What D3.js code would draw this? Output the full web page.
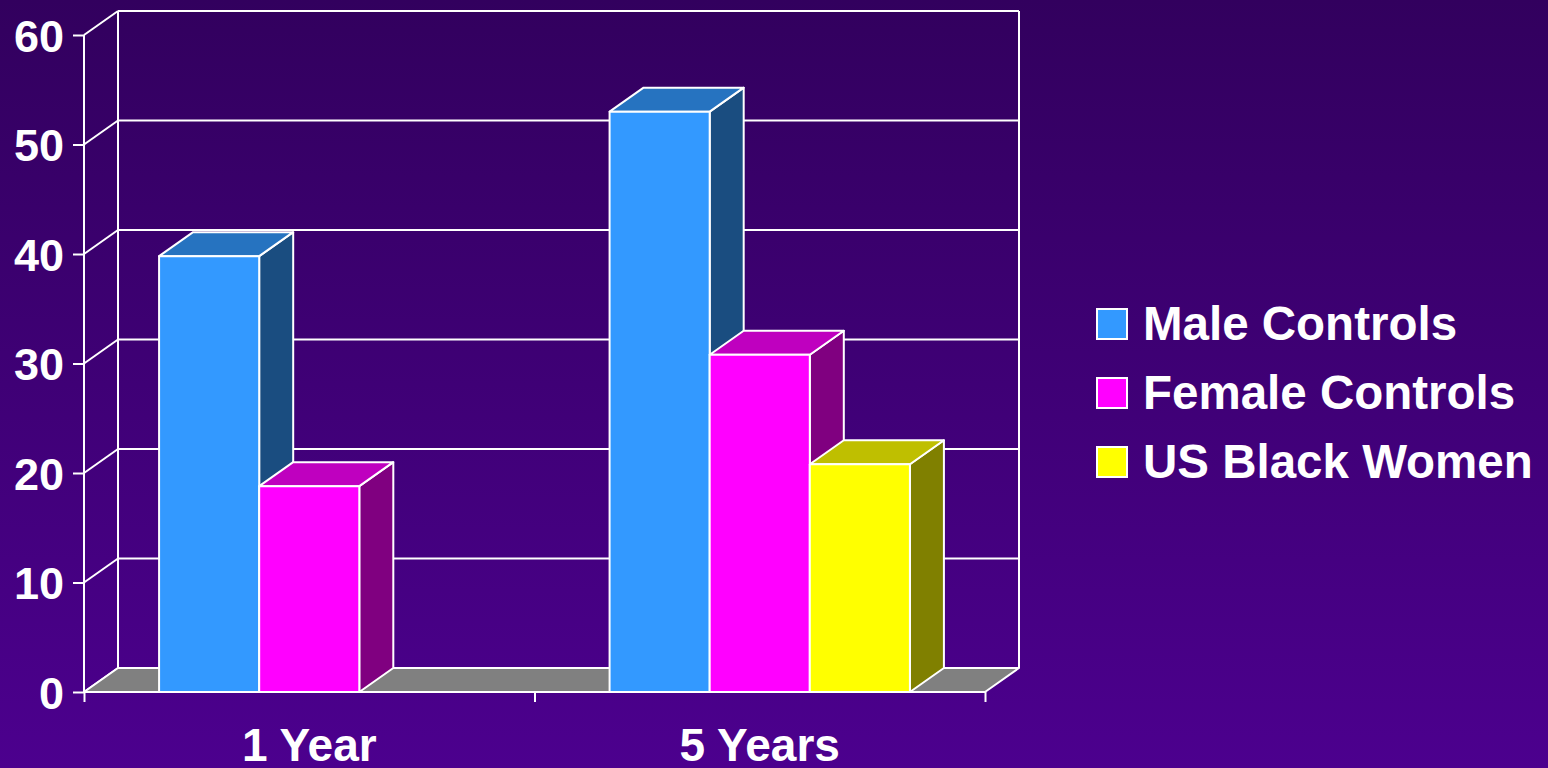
<!DOCTYPE html>
<html><head><meta charset="utf-8">
<script src="https://cdn.jsdelivr.net/npm/d3@7"></script>
<style>html,body{margin:0;padding:0;overflow:hidden}svg{display:block}</style>
</head><body><div id="chart"></div>
<script>
const categories = ["1 Year", "5 Years"];
const seriesNames = ["Male Controls", "Female Controls", "US Black Women"];
const maleControls = [39.8, 53];
const femaleControls = [18.8, 30.8];
const usBlackWomen = [null, 20.8];
const yTicks = [0, 10, 20, 30, 40, 50, 60];

const seriesValues = [maleControls, femaleControls, usBlackWomen];
const colors = [
  {front: "#3399FF", top: "#2673C0", side: "#1A4D80"},
  {front: "#FF00FF", top: "#BF00BF", side: "#800080"},
  {front: "#FFFF00", top: "#BFBF00", side: "#808000"}
];

const W = 1548, H = 768;
const svg = d3.select("#chart").append("svg").attr("width", W).attr("height", H);
const defs = svg.append("defs");
const grad = defs.append("linearGradient").attr("id", "bg").attr("x1", 0).attr("y1", 0).attr("x2", 0).attr("y2", 1);
grad.append("stop").attr("offset", "0%").attr("stop-color", "#32005E");
grad.append("stop").attr("offset", "100%").attr("stop-color", "#4C008E");
svg.append("rect").attr("width", W).attr("height", H).attr("fill", "url(#bg)");

const dx = 34, dy = -24;
const y = d3.scaleLinear().domain([0, 60]).range([692, 35]);
const x0 = d3.scaleBand().domain(categories).range([84, 985]).padding(0);
const x1 = d3.scaleBand().domain(seriesNames).range([0, x0.bandwidth()]).paddingInner(0).paddingOuter(0.75);

const white = "#FFFFFF";
const SW = 2;
const g = svg.append("g");

g.selectAll(".grid").data(yTicks).join("line")
  .attr("x1", 84 + dx).attr("x2", 985 + dx)
  .attr("y1", d => y(d) + dy).attr("y2", d => y(d) + dy)
  .attr("stroke", white).attr("stroke-width", SW);
g.selectAll(".diag").data(yTicks).join("line")
  .attr("x1", 84).attr("x2", 84 + dx)
  .attr("y1", d => y(d)).attr("y2", d => y(d) + dy)
  .attr("stroke", white).attr("stroke-width", SW);
[[84, 0], [84 + dx, dy], [985 + dx, dy]].forEach(([xx, off]) => {
  g.append("line").attr("x1", xx).attr("x2", xx)
    .attr("y1", y(0) + off).attr("y2", y(60) + off)
    .attr("stroke", white).attr("stroke-width", SW);
});
g.append("path")
  .attr("d", `M84,${y(0)} L985,${y(0)} L${985 + dx},${y(0) + dy} L${84 + dx},${y(0) + dy} Z`)
  .attr("fill", "#808080").attr("stroke", white).attr("stroke-width", SW).attr("stroke-linejoin", "round");

const bars = [];
categories.forEach((c, ci) => {
  seriesNames.forEach((s, si) => {
    const v = seriesValues[si][ci];
    if (v == null) return;
    bars.push({c, s, si, v});
  });
});
const bg = svg.append("g");
bars.forEach(b => {
  const xl = x0(b.c) + x1(b.s), xr = xl + x1.bandwidth();
  const yt = y(b.v), yb = y(0);
  const col = colors[b.si];
  const gg = bg.append("g").attr("stroke", white).attr("stroke-width", SW).attr("stroke-linejoin", "round");
  gg.append("path").attr("fill", col.side)
    .attr("d", `M${xr},${yb} L${xr + dx},${yb + dy} L${xr + dx},${yt + dy} L${xr},${yt} Z`);
  gg.append("path").attr("fill", col.top)
    .attr("d", `M${xl},${yt} L${xr},${yt} L${xr + dx},${yt + dy} L${xl + dx},${yt + dy} Z`);
  gg.append("rect").attr("fill", col.front)
    .attr("x", xl).attr("y", yt).attr("width", xr - xl).attr("height", yb - yt);
});

const font = "'Liberation Sans', Arial, sans-serif";
const yAxis = d3.axisLeft(y).tickValues(yTicks).tickSize(11).tickPadding(9);
const ya = svg.append("g").attr("transform", "translate(84,0)").call(yAxis);
ya.select(".domain").remove();
ya.selectAll(".tick line").attr("stroke", white).attr("stroke-width", SW);
ya.selectAll(".tick text").attr("fill", white).attr("font-family", font)
  .attr("font-weight", "bold").attr("font-size", 45).attr("dy", "0.36em");

const xAxisScale = d3.scalePoint().domain(["a", "b", "c"]).range([84, 985]);
const xa = svg.append("g").attr("transform", `translate(0,${y(0)})`)
  .call(d3.axisBottom(xAxisScale).tickSize(10).tickFormat(""));
xa.select(".domain").remove();
xa.selectAll(".tick line").attr("stroke", white).attr("stroke-width", SW);

svg.append("g").selectAll("text").data(categories).join("text")
  .attr("x", d => x0(d) + x0.bandwidth() / 2).attr("y", 761)
  .attr("text-anchor", "middle").attr("fill", white)
  .attr("font-family", font).attr("font-weight", "bold").attr("font-size", 46)
  .text(d => d);

const lg = svg.append("g");
seriesNames.forEach((s, i) => {
  const yy = 340 + i * 69;
  lg.append("rect").attr("x", 1097).attr("y", yy - 31).attr("width", 30).attr("height", 30)
    .attr("fill", colors[i].front).attr("stroke", white).attr("stroke-width", SW);
  lg.append("text").attr("x", 1143).attr("y", yy).attr("fill", white)
    .attr("font-family", font).attr("font-weight", "bold").attr("font-size", 47.5)
    .text(s);
});
</script></body></html>
